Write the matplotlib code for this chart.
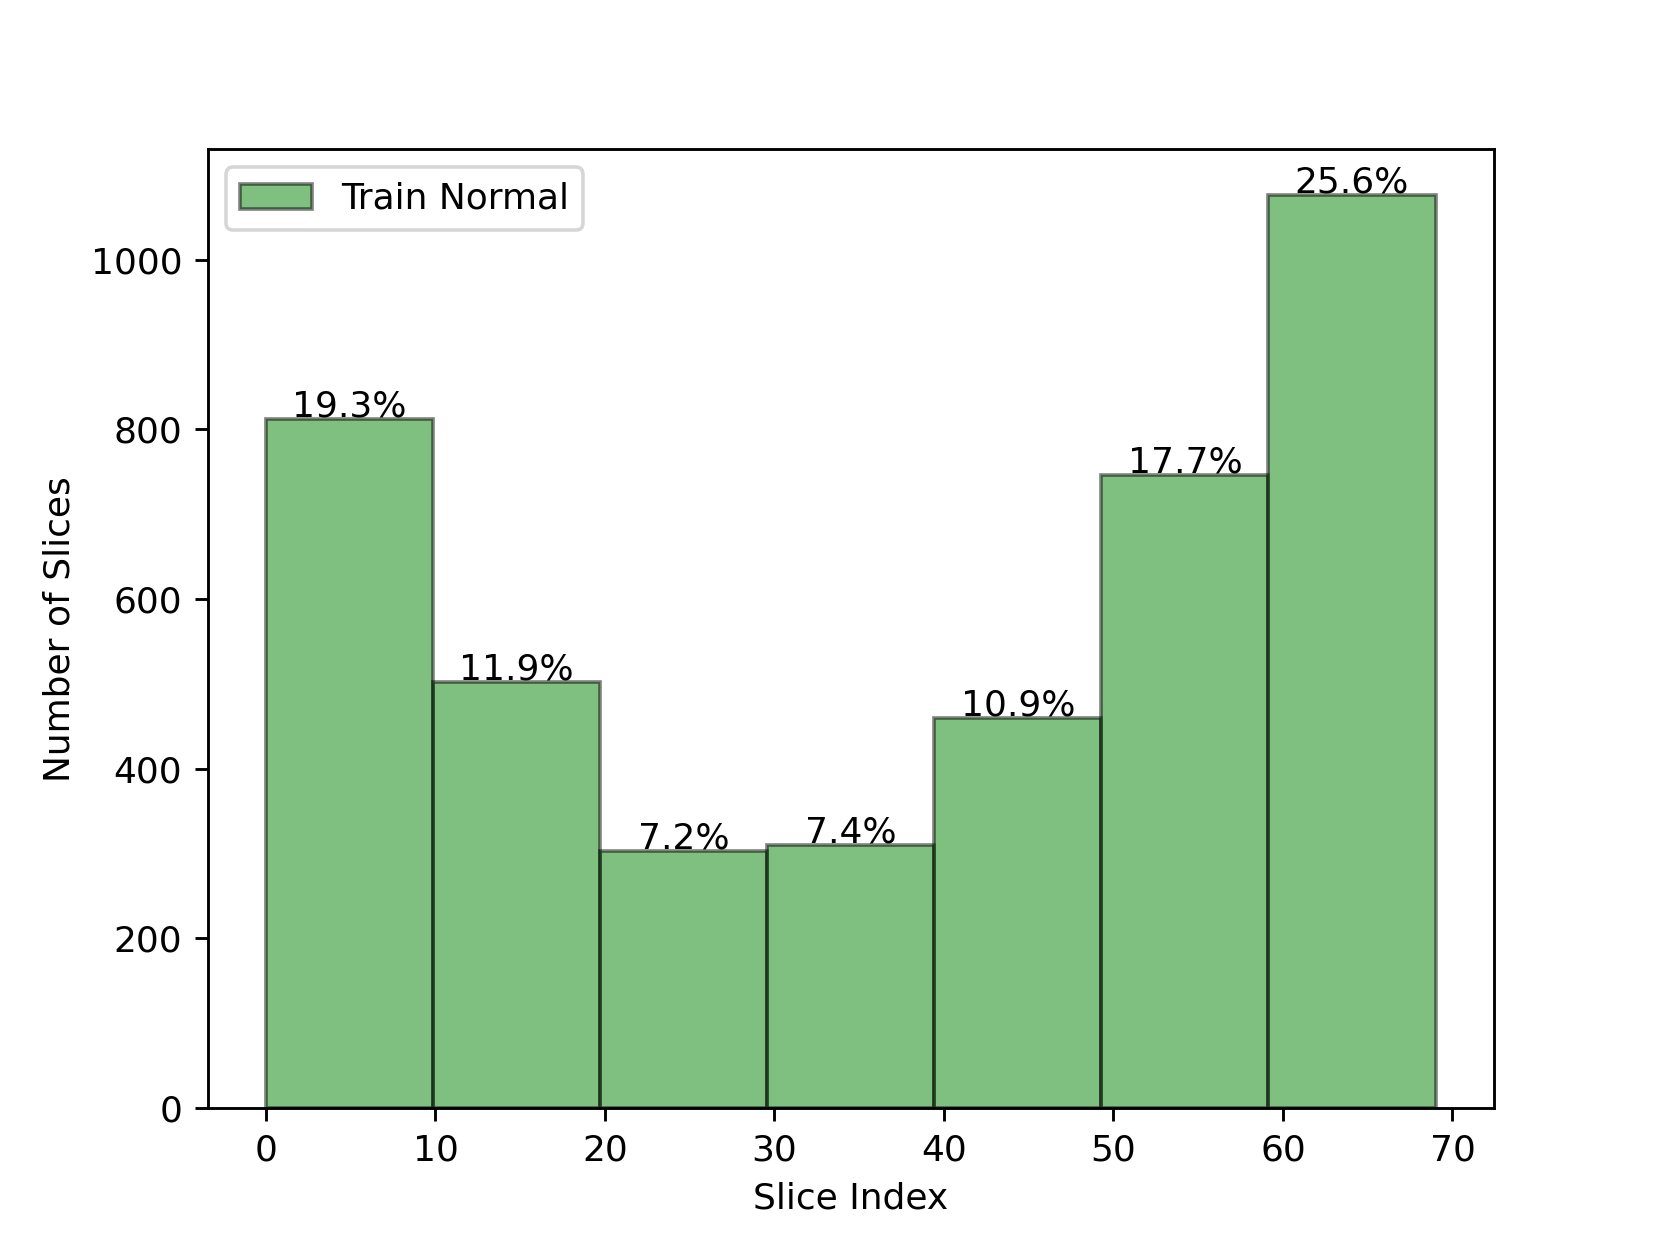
import numpy as np
import matplotlib
matplotlib.use("Agg")
import matplotlib.pyplot as plt

# bin edges of slice index and counts per bin
bin_edges = np.linspace(0, 69, 8)
counts = [812, 502, 303, 310, 460, 746, 1076]
series_label = "Train Normal"

fig, ax = plt.subplots(figsize=(6.4, 4.8))

centers = (bin_edges[:-1] + bin_edges[1:]) / 2
n, bins, patches = ax.hist(centers, bins=bin_edges, weights=counts,
                           color="green", alpha=0.5, edgecolor="black",
                           label=series_label)

total = sum(counts)
for c, h in zip(centers, n):
    ax.text(c, h + 3, f"{h / total * 100:.1f}%", ha="center", va="baseline")

ax.set_xlabel("Slice Index")
ax.set_ylabel("Number of Slices")
ax.legend(loc="upper left")

fig.savefig("out.png", dpi=1660 / 6.4)
